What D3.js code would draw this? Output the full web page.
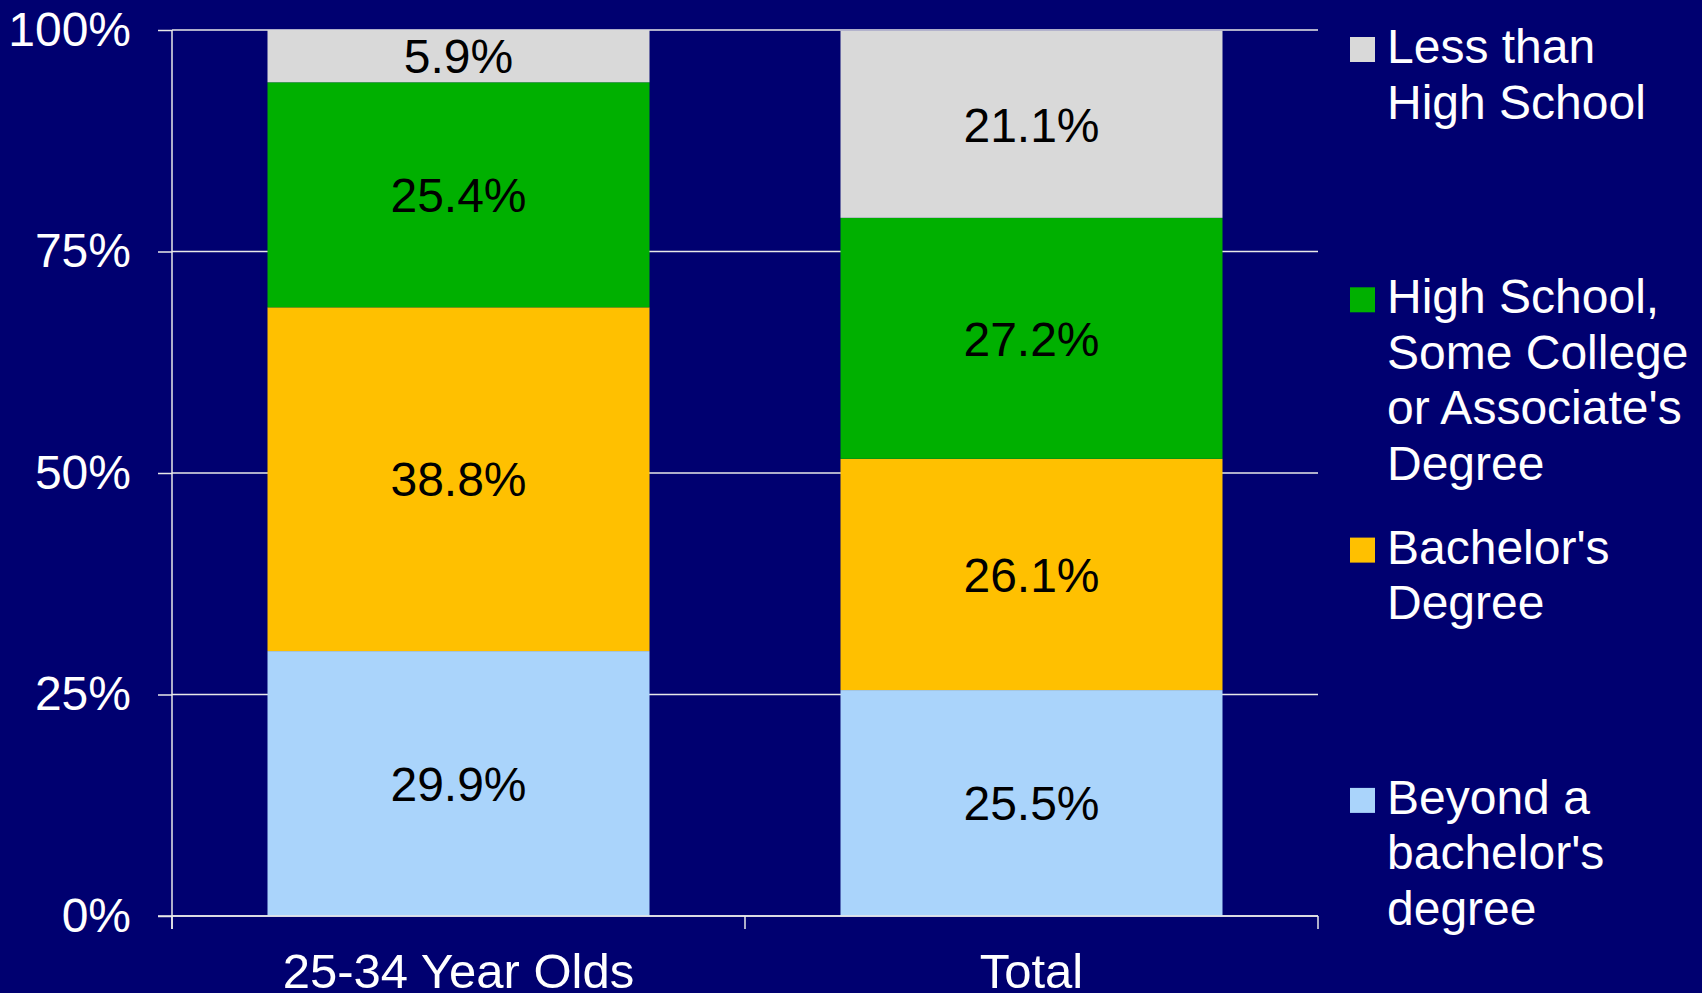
<!DOCTYPE html>
<html>
<head>
<meta charset="utf-8">
<script src="https://cdn.jsdelivr.net/npm/d3@7/dist/d3.min.js"></script>
<style>
body { margin: 0; background: #000070; }
text { font-family: "Liberation Sans", Arial, sans-serif; }
.axis path, .axis line { stroke: #e8e8e8; stroke-width: 1.5px; }
.grid line { stroke: #e8e8e8; stroke-width: 1.5px; }
</style>
</head>
<body>
<script>
// data
var groups = ["25-34 Year Olds", "Total"];
var levels = ["Beyond a bachelor's degree", "Bachelor's Degree", "High School, Some College or Associate's Degree", "Less than High School"];
var beyond = [29.9, 25.5];
var bachelors = [38.8, 26.1];
var someCollege = [25.4, 27.2];
var lessHS = [5.9, 21.1];
var yTicks = [0, 25, 50, 75, 100];

// legend is listed top to bottom, with wrapped lines
var legendLines = [
  ["Less than", "High School"],
  ["High School,", "Some College", "or Associate's", "Degree"],
  ["Bachelor's", "Degree"],
  ["Beyond a", "bachelor's", "degree"]
];
var legendColors = ["#d9d9d9", "#00b000", "#ffc000", "#aad4fb"];
var colors = ["#aad4fb", "#ffc000", "#00b000", "#d9d9d9"];

var width = 1702, height = 993;
var mLeft = 172, mRight = 1318, mTop = 30, mBottom = 916;
var fs = "48px";

var svg = d3.select("body").append("svg")
    .attr("width", width)
    .attr("height", height);

svg.append("rect").attr("width", width).attr("height", height).attr("fill", "#000070");

var x = d3.scaleBand()
    .domain(groups)
    .range([mLeft, mRight])
    .paddingInner(1/3)
    .paddingOuter(1/6);

var y = d3.scaleLinear()
    .domain([0, 100])
    .range([mBottom, mTop]);

// gridlines
svg.append("g").attr("class", "grid")
  .selectAll("line")
  .data(yTicks)
  .enter().append("line")
    .attr("x1", mLeft).attr("x2", mRight)
    .attr("y1", d => y(d)).attr("y2", d => y(d));

// stack the rows
var rows = groups.map(function(g, i) {
  return {group: g, 0: beyond[i], 1: bachelors[i], 2: someCollege[i], 3: lessHS[i]};
});
var stack = d3.stack().keys([0, 1, 2, 3])(rows);

var layer = svg.append("g").selectAll("g")
    .data(stack)
  .enter().append("g")
    .attr("fill", (d, i) => colors[i]);

layer.selectAll("rect")
    .data(d => d)
  .enter().append("rect")
    .attr("x", d => x(d.data.group))
    .attr("width", x.bandwidth())
    .attr("y", d => y(d[1]))
    .attr("height", d => y(d[0]) - y(d[1]));

layer.selectAll("text")
    .data(d => d)
  .enter().append("text")
    .attr("x", d => x(d.data.group) + x.bandwidth() / 2)
    .attr("y", d => (y(d[0]) + y(d[1])) / 2)
    .attr("dy", "0.36em")
    .attr("text-anchor", "middle")
    .attr("fill", "#000")
    .style("font-size", fs)
    .text(d => (d[1] - d[0]).toFixed(1) + "%");

// y axis
var yAxis = svg.append("g")
    .attr("class", "axis")
    .attr("transform", "translate(" + mLeft + ",0)")
    .call(d3.axisLeft(y).tickValues(yTicks).tickSize(14).tickPadding(27).tickFormat(d => d + "%"));
yAxis.select(".domain").attr("d", "M0," + mTop + "V" + (mBottom + 13));
yAxis.selectAll("text")
    .attr("fill", "#fff")
    .style("font-size", fs);

// x axis: line, ticks on band edges, labels at centres
var xAxis = svg.append("g")
    .attr("class", "axis")
    .attr("transform", "translate(0," + mBottom + ")");
xAxis.append("line").attr("x1", mLeft - 14).attr("x2", mRight).attr("y1", 0).attr("y2", 0);
var edges = d3.range(groups.length + 1).map(i => mLeft + i * x.step());
xAxis.selectAll(".edge")
    .data(edges)
  .enter().append("line")
    .attr("class", "edge")
    .attr("x1", d => d).attr("x2", d => d)
    .attr("y1", 0).attr("y2", 13);
xAxis.selectAll(".lbl")
    .data(groups)
  .enter().append("text")
    .attr("class", "lbl")
    .attr("x", d => x(d) + x.bandwidth() / 2)
    .attr("y", 72)
    .attr("text-anchor", "middle")
    .attr("fill", "#fff")
    .style("font-size", "49px")
    .text(d => d);

// legend
var legend = svg.append("g").attr("transform", "translate(1350,0)");
var entry = legend.selectAll("g")
    .data(legendLines)
  .enter().append("g")
    .attr("transform", (d, i) => "translate(0," + (63 + i * 250.3) + ")");
entry.append("rect")
    .attr("x", 0).attr("y", -26)
    .attr("width", 25).attr("height", 25)
    .attr("fill", (d, i) => legendColors[i]);
entry.selectAll("text")
    .data(d => d)
  .enter().append("text")
    .attr("x", 37)
    .attr("y", (d, j) => j * 55.5)
    .attr("fill", "#fff")
    .style("font-size", fs)
    .text(d => d);
</script>
</body>
</html>
